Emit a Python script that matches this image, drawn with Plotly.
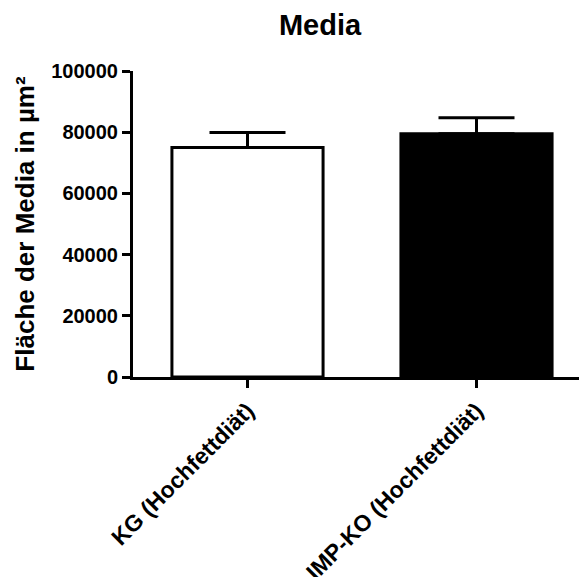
import plotly.graph_objects as go

categories = ["KG (Hochfettdiät)", "IMP-KO (Hochfettdiät)"]
means = [75000, 79500]
sem = [4900, 5200]
fill_colors = ["white", "black"]
y_ticks = [0, 20000, 40000, 60000, 80000, 100000]

W, H = 579, 577
FONT = "Arial, Liberation Sans, sans-serif"

fig = go.Figure()
fig.add_trace(go.Bar(
    x=[0, 1],
    y=means,
    width=0.66,
    marker=dict(color=fill_colors, line=dict(color="black", width=3)),
    error_y=dict(type="data", array=sem, arrayminus=[0, 0], symmetric=False,
                 color="black", thickness=3, width=38),
))

fig.update_layout(
    width=W, height=H,
    margin=dict(l=133, r=0, t=70.5, b=199.5),
    paper_bgcolor="white", plot_bgcolor="white",
    showlegend=False,
    font=dict(family=FONT, color="black"),
    title=dict(text="<b>Media</b>", x=320 / W, xref="container", xanchor="center",
               y=1 - 25 / H, yref="container", yanchor="middle",
               font=dict(size=29, family=FONT, color="black")),
)
fig.update_xaxes(
    automargin=False,
    range=[-0.5, -0.5 + 446 / 229],
    tickmode="array", tickvals=[0, 1],
    ticktext=[f"<b>{c}</b>" for c in categories],
    tickangle=-45, tickfont=dict(size=23, family=FONT, color="black"),
    showline=True, linecolor="black", linewidth=3,
    ticks="outside", ticklen=8, tickwidth=3, tickcolor="black",
    showgrid=False, zeroline=False,
)
fig.update_yaxes(
    automargin=False,
    range=[0, 100000],
    tickmode="array", tickvals=y_ticks,
    ticktext=[f"<b>{v}</b>" for v in y_ticks],
    tickfont=dict(size=20, family=FONT, color="black"),
    showline=True, linecolor="black", linewidth=3,
    ticks="outside", ticklen=8, tickwidth=3, tickcolor="black",
    showgrid=False, zeroline=False,
    title=dict(text="<b>Fläche der Media in µm²</b>", font=dict(size=26, family=FONT, color="black"), standoff=10),
)

fig.write_html("out.html")
